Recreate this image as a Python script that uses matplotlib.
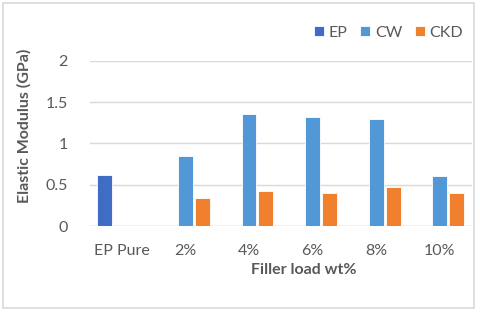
import matplotlib.pyplot as plt
import numpy as np
from matplotlib.patches import Rectangle

categories = ["EP Pure", "2%", "4%", "6%", "8%", "10%"]
ep = [0.62, 0, 0, 0, 0, 0]
cw = [0, 0.85, 1.36, 1.32, 1.30, 0.61]
ckd = [0, 0.34, 0.42, 0.40, 0.47, 0.40]

plt.rcParams['font.family'] = ['Lato', 'DejaVu Sans']
grey = '#595959'

fig = plt.figure(figsize=(4.8, 3.14), dpi=100)
ax = fig.add_axes([0.1875, 0.280, 0.795, 0.526])

x = np.arange(len(categories))
w = 0.235
off = 0.265
ax.bar(x - off, ep, w, color='#3F6CC4', edgecolor='white', linewidth=0.6, label='EP', zorder=3)
ax.bar(x, cw, w, color='#5297D6', edgecolor='white', linewidth=0.6, label='CW', zorder=3)
ax.bar(x + off, ckd, w, color='#F07F2E', edgecolor='white', linewidth=0.6, label='CKD', zorder=3)

ax.set_ylim(0, 2)
ax.set_xlim(-0.5, len(categories) - 0.5)
ax.set_yticks([0, 0.5, 1, 1.5, 2])
ax.set_yticklabels(['0', '0.5', '1', '1.5', '2'])
ax.set_xticks(x)
ax.set_xticklabels(categories)
ax.tick_params(axis='both', length=0, colors=grey, labelsize=11.5)
ax.tick_params(axis='y', pad=16)
ax.tick_params(axis='x', pad=13)
ax.grid(axis='y', color='#D9D9D9', linewidth=1, zorder=0)
for s in ax.spines.values():
    s.set_visible(False)
ax.axhline(0, color='#D9D9D9', linewidth=1, zorder=1)

ax.set_ylabel('Elastic Modulus (GPa)', fontsize=11.5, fontweight='bold', color=grey)
ax.yaxis.set_label_coords(-0.152, 0.605)
ax.set_xlabel('Filler load wt%', fontsize=11.5, fontweight='bold', color=grey)
ax.xaxis.set_label_coords(0.56, -0.225)

ax.legend(loc='upper right', bbox_to_anchor=(1.015, 1.30), ncol=3, frameon=False,
          fontsize=11.5, handlelength=0.6, handleheight=0.6, handletextpad=0.3,
          columnspacing=0.8, labelcolor=grey)

fig.patches.append(Rectangle((0.007, 0.02), 0.98, 0.97, transform=fig.transFigure,
                             fill=False, edgecolor='#D9D9D9', linewidth=1.2))

fig.savefig('out.png', dpi=100)
